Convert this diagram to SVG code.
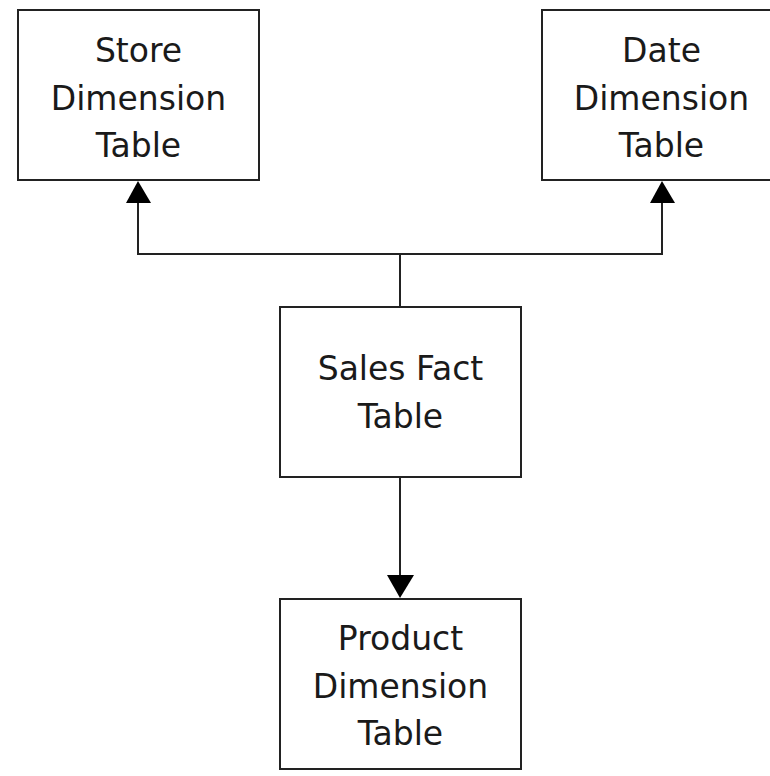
<svg xmlns="http://www.w3.org/2000/svg" width="770" height="776" viewBox="0 0 770 776">
<style>
.box{fill:#fff;stroke:#222;stroke-width:2}
.lbl{font-family:"DejaVu Sans",sans-serif;font-size:33px;fill:#1a1a1a;text-anchor:middle}
.conn{fill:none;stroke:#222;stroke-width:2}
.head{fill:#000}
</style>
<rect width="770" height="776" fill="#fff"/>
<g id="connectors">
<polyline class="conn" points="400,306 400,254 138,254 138,200"/>
<polyline class="conn" points="400,254 662,254 662,200"/>
<polygon class="head" points="138,181 126,203 151,203"/>
<polygon class="head" points="662,181 650,203 675,203"/>
<line class="conn" x1="400" y1="477" x2="400" y2="580"/>
<polygon class="head" points="400,598 387,575 414,575"/>
</g>
<g id="store">
<rect class="box" x="18" y="10" width="241" height="170"/>
<text class="lbl" x="138.5" y="62">Store</text>
<text class="lbl" x="138.5" y="110">Dimension</text>
<text class="lbl" x="138.5" y="157">Table</text>
</g>
<g id="date">
<rect class="box" x="542" y="10" width="240" height="170"/>
<text class="lbl" x="661.5" y="62">Date</text>
<text class="lbl" x="661.5" y="110">Dimension</text>
<text class="lbl" x="661.5" y="157">Table</text>
</g>
<g id="sales">
<rect class="box" x="280" y="307" width="241" height="170"/>
<text class="lbl" x="400.5" y="380">Sales Fact</text>
<text class="lbl" x="400.5" y="428">Table</text>
</g>
<g id="product">
<rect class="box" x="280" y="599" width="241" height="170"/>
<text class="lbl" x="400.5" y="650">Product</text>
<text class="lbl" x="400.5" y="698">Dimension</text>
<text class="lbl" x="400.5" y="745">Table</text>
</g>
</svg>
